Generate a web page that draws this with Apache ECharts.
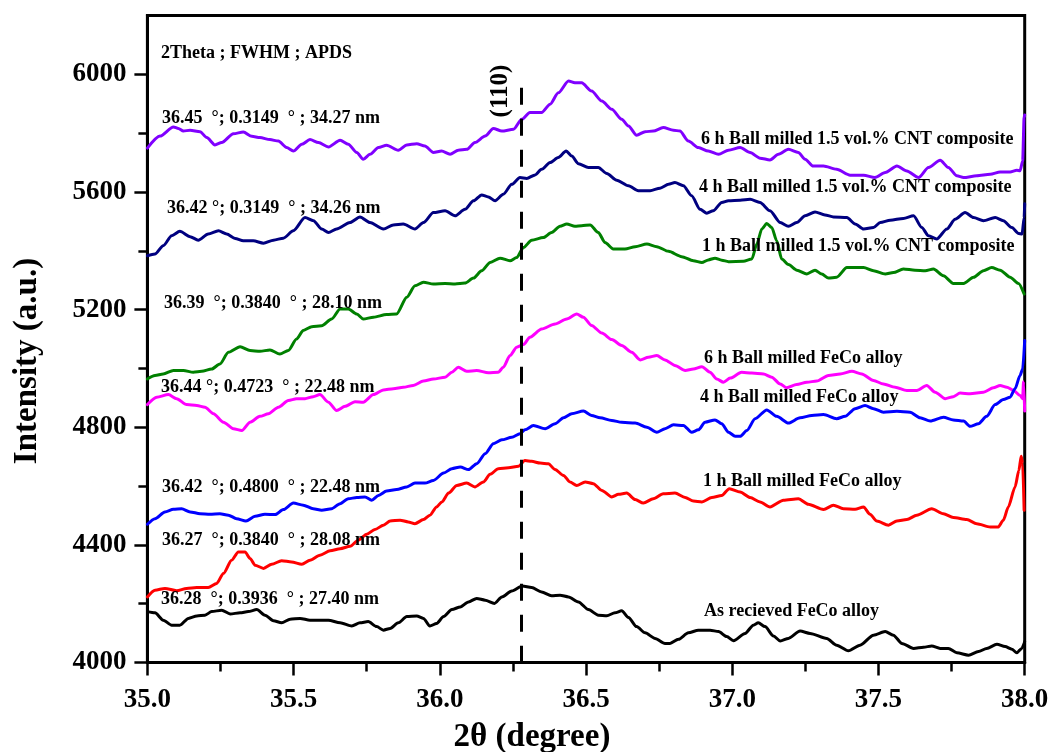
<!DOCTYPE html>
<html>
<head>
<meta charset="utf-8">
<script src="https://cdn.jsdelivr.net/npm/echarts@6/dist/echarts.min.js"></script>
<style>
  html, body { margin: 0; padding: 0; background: #fff; }
  #chart { width: 1052px; height: 752px; }
</style>
</head>
<body>
<div id="chart"></div>
<script>
// XRD scans around the FeCo (110) reflection, offset vertically per sample.
// Each scan is a list of [2θ, intensity] points.
const asReceived = [[35.000,4173],[35.026,4169],[35.054,4144],[35.083,4127],[35.111,4127],[35.140,4150],[35.169,4158],[35.197,4161],[35.220,4173],[35.254,4178],[35.283,4165],[35.317,4169],[35.345,4173],[35.374,4180],[35.402,4161],[35.431,4142],[35.459,4135],[35.488,4147],[35.522,4150],[35.556,4144],[35.590,4144],[35.619,4144],[35.659,4135],[35.699,4124],[35.727,4135],[35.755,4139],[35.784,4122],[35.807,4110],[35.830,4116],[35.858,4135],[35.887,4156],[35.921,4158],[35.944,4150],[35.966,4124],[35.989,4133],[36.013,4156],[36.041,4180],[36.070,4189],[36.098,4206],[36.126,4218],[36.155,4212],[36.187,4201],[36.212,4223],[36.246,4243],[36.282,4260],[36.314,4255],[36.348,4240],[36.382,4227],[36.411,4229],[36.440,4223],[36.474,4206],[36.508,4180],[36.542,4161],[36.571,4159],[36.599,4169],[36.622,4176],[36.645,4153],[36.673,4122],[36.702,4101],[36.736,4082],[36.770,4065],[36.787,4065],[36.816,4079],[36.850,4101],[36.884,4110],[36.924,4110],[36.953,4105],[36.981,4088],[37.004,4074],[37.044,4099],[37.072,4127],[37.089,4135],[37.112,4122],[37.141,4090],[37.164,4073],[37.192,4082],[37.232,4107],[37.266,4099],[37.323,4082],[37.357,4059],[37.397,4040],[37.437,4059],[37.483,4093],[37.523,4105],[37.551,4093],[37.580,4065],[37.620,4048],[37.654,4052],[37.682,4056],[37.711,4048],[37.739,4048],[37.768,4033],[37.808,4025],[37.842,4037],[37.870,4048],[37.905,4062],[37.933,4054],[37.956,4045],[37.973,4033],[37.990,4048],[38.000,4071]];

const feco1h = [[35.000,4223],[35.026,4246],[35.060,4252],[35.100,4244],[35.134,4252],[35.169,4255],[35.208,4255],[35.237,4269],[35.260,4303],[35.288,4348],[35.311,4376],[35.334,4376],[35.351,4354],[35.368,4331],[35.397,4320],[35.425,4334],[35.459,4346],[35.493,4342],[35.528,4334],[35.556,4348],[35.590,4365],[35.625,4380],[35.659,4387],[35.693,4395],[35.721,4416],[35.750,4436],[35.778,4452],[35.807,4467],[35.830,4481],[35.864,4484],[35.892,4478],[35.915,4472],[35.944,4486],[35.966,4501],[35.989,4529],[36.007,4546],[36.030,4576],[36.058,4602],[36.092,4610],[36.120,4597],[36.149,4614],[36.172,4640],[36.200,4659],[36.235,4662],[36.269,4667],[36.291,4687],[36.314,4684],[36.343,4678],[36.371,4676],[36.394,4656],[36.423,4636],[36.445,4614],[36.468,4602],[36.497,4614],[36.525,4608],[36.554,4585],[36.588,4563],[36.611,4572],[36.639,4576],[36.668,4554],[36.696,4542],[36.730,4557],[36.764,4574],[36.804,4576],[36.839,4561],[36.867,4549],[36.896,4546],[36.930,4561],[36.964,4568],[36.990,4591],[37.027,4580],[37.061,4561],[37.095,4546],[37.129,4529],[37.175,4552],[37.226,4557],[37.260,4538],[37.312,4520],[37.346,4535],[37.380,4523],[37.420,4521],[37.449,4529],[37.471,4504],[37.494,4481],[37.534,4467],[37.563,4481],[37.597,4486],[37.631,4501],[37.682,4523],[37.722,4506],[37.756,4493],[37.802,4486],[37.836,4472],[37.882,4461],[37.910,4461],[37.927,4484],[37.944,4529],[37.967,4597],[37.980,4653],[37.988,4701],[37.993,4676],[37.998,4518]];

const feco4h = [[35.000,4470],[35.026,4489],[35.060,4512],[35.089,4521],[35.117,4523],[35.146,4512],[35.180,4506],[35.214,4504],[35.248,4506],[35.277,4501],[35.305,4489],[35.337,4481],[35.368,4497],[35.402,4504],[35.437,4503],[35.465,4520],[35.499,4542],[35.533,4535],[35.567,4523],[35.596,4518],[35.630,4523],[35.659,4540],[35.687,4557],[35.716,4561],[35.744,4563],[35.767,4552],[35.790,4568],[35.818,4583],[35.852,4588],[35.887,4597],[35.915,4610],[35.949,4610],[35.978,4619],[36.013,4644],[36.041,4659],[36.070,4665],[36.098,4656],[36.126,4676],[36.155,4710],[36.183,4744],[36.212,4757],[36.246,4766],[36.274,4778],[36.291,4791],[36.320,4806],[36.360,4795],[36.394,4812],[36.423,4832],[36.451,4846],[36.491,4855],[36.519,4840],[36.548,4832],[36.588,4823],[36.622,4817],[36.668,4814],[36.708,4800],[36.742,4783],[36.770,4795],[36.799,4808],[36.833,4806],[36.861,4783],[36.884,4791],[36.907,4817],[36.941,4825],[36.964,4812],[36.987,4783],[37.010,4769],[37.027,4769],[37.050,4789],[37.078,4829],[37.118,4859],[37.152,4837],[37.192,4814],[37.232,4832],[37.272,4840],[37.312,4843],[37.357,4829],[37.386,4837],[37.420,4863],[37.454,4874],[37.483,4863],[37.517,4851],[37.563,4854],[37.608,4851],[37.642,4832],[37.677,4821],[37.722,4834],[37.756,4825],[37.791,4821],[37.813,4803],[37.842,4812],[37.870,4837],[37.899,4877],[37.927,4894],[37.950,4902],[37.967,4931],[37.984,4976],[37.993,4998],[38.000,5095]];

const feco6h = [[35.000,4877],[35.032,4902],[35.072,4911],[35.100,4897],[35.134,4877],[35.169,4874],[35.197,4868],[35.226,4846],[35.260,4817],[35.294,4795],[35.323,4789],[35.351,4817],[35.385,4837],[35.414,4846],[35.448,4868],[35.482,4891],[35.510,4897],[35.539,4897],[35.567,4904],[35.590,4911],[35.619,4885],[35.647,4857],[35.676,4871],[35.710,4887],[35.738,4885],[35.773,4911],[35.807,4927],[35.841,4931],[35.875,4936],[35.909,4942],[35.944,4957],[35.978,4964],[36.018,4970],[36.041,4987],[36.063,5004],[36.092,4990],[36.126,4993],[36.166,4985],[36.200,4987],[36.217,5004],[36.240,5044],[36.263,5072],[36.286,5081],[36.308,5106],[36.348,5134],[36.394,5151],[36.434,5168],[36.468,5185],[36.491,5174],[36.519,5146],[36.554,5120],[36.588,5098],[36.622,5078],[36.656,5055],[36.685,5029],[36.713,5038],[36.742,5044],[36.770,5029],[36.804,5010],[36.839,4993],[36.867,4998],[36.896,5006],[36.924,4987],[36.947,4964],[36.970,4953],[36.993,4967],[37.032,4987],[37.067,4984],[37.107,4981],[37.135,4970],[37.164,4947],[37.186,4934],[37.220,4945],[37.255,4953],[37.289,4957],[37.329,4976],[37.369,4981],[37.409,4990],[37.443,4981],[37.483,4959],[37.517,4947],[37.557,4936],[37.597,4925],[37.631,4925],[37.665,4942],[37.694,4919],[37.728,4897],[37.756,4904],[37.779,4916],[37.813,4914],[37.859,4919],[37.893,4934],[37.916,4942],[37.939,4936],[37.962,4925],[37.984,4908],[37.993,4897],[37.996,4955],[38.000,4855]];

const cnt1h = [[35.000,4964],[35.026,4976],[35.054,4981],[35.089,4993],[35.123,4993],[35.157,4987],[35.186,4990],[35.220,4998],[35.248,5015],[35.277,5055],[35.317,5074],[35.351,5061],[35.385,5058],[35.419,5063],[35.453,5049],[35.482,5061],[35.510,5100],[35.533,5129],[35.562,5142],[35.596,5145],[35.630,5168],[35.659,5202],[35.687,5202],[35.716,5185],[35.738,5168],[35.773,5174],[35.818,5183],[35.852,5185],[35.887,5242],[35.915,5281],[35.944,5293],[35.978,5287],[36.018,5289],[36.052,5287],[36.086,5290],[36.115,5307],[36.143,5332],[36.172,5360],[36.206,5375],[36.240,5366],[36.263,5377],[36.286,5411],[36.314,5436],[36.354,5445],[36.382,5462],[36.411,5483],[36.434,5491],[36.462,5483],[36.485,5485],[36.514,5488],[36.542,5462],[36.565,5428],[36.593,5406],[36.633,5406],[36.668,5414],[36.708,5423],[36.742,5414],[36.782,5398],[36.827,5380],[36.867,5366],[36.896,5360],[36.918,5369],[36.941,5375],[36.964,5368],[36.987,5363],[37.038,5364],[37.067,5372],[37.084,5423],[37.101,5474],[37.118,5493],[37.135,5479],[37.152,5434],[37.169,5372],[37.192,5353],[37.221,5334],[37.255,5321],[37.283,5334],[37.306,5321],[37.329,5307],[37.357,5310],[37.392,5343],[37.414,5343],[37.449,5343],[37.483,5332],[37.523,5321],[37.551,5326],[37.585,5338],[37.625,5334],[37.660,5332],[37.688,5338],[37.722,5315],[37.756,5289],[37.791,5289],[37.825,5310],[37.859,5332],[37.887,5343],[37.916,5334],[37.950,5310],[37.979,5289],[37.998,5253]];

const cnt4h = [[35.000,5383],[35.026,5389],[35.054,5417],[35.083,5451],[35.111,5466],[35.146,5448],[35.174,5436],[35.208,5457],[35.243,5468],[35.271,5457],[35.300,5442],[35.328,5434],[35.362,5434],[35.397,5426],[35.431,5436],[35.465,5443],[35.499,5468],[35.539,5513],[35.568,5502],[35.596,5474],[35.619,5462],[35.647,5474],[35.693,5496],[35.727,5515],[35.761,5496],[35.807,5474],[35.841,5488],[35.875,5491],[35.915,5474],[35.944,5496],[35.978,5530],[36.018,5536],[36.052,5519],[36.086,5541],[36.115,5570],[36.143,5590],[36.166,5583],[36.189,5570],[36.217,5592],[36.246,5626],[36.274,5649],[36.297,5646],[36.326,5658],[36.348,5677],[36.377,5700],[36.405,5717],[36.432,5739],[36.451,5722],[36.474,5696],[36.508,5683],[36.542,5683],[36.571,5663],[36.605,5640],[36.645,5621],[36.679,5604],[36.719,5604],[36.753,5613],[36.782,5626],[36.804,5632],[36.833,5621],[36.861,5587],[36.890,5541],[36.913,5528],[36.935,5536],[36.964,5564],[36.987,5570],[37.027,5572],[37.061,5575],[37.095,5564],[37.129,5536],[37.164,5496],[37.192,5483],[37.220,5496],[37.249,5519],[37.283,5532],[37.317,5522],[37.346,5515],[37.392,5513],[37.420,5491],[37.449,5474],[37.483,5479],[37.506,5496],[37.540,5504],[37.585,5510],[37.620,5519],[37.648,5479],[37.671,5451],[37.699,5440],[37.734,5474],[37.762,5507],[37.796,5530],[37.825,5513],[37.859,5502],[37.899,5513],[37.927,5502],[37.956,5479],[37.979,5459],[37.991,5457],[37.998,5513],[38.000,5560]];

const cnt6h = [[35.000,5749],[35.043,5790],[35.089,5821],[35.106,5816],[35.123,5807],[35.146,5810],[35.180,5805],[35.203,5785],[35.231,5760],[35.254,5768],[35.294,5798],[35.328,5804],[35.357,5789],[35.385,5785],[35.419,5778],[35.448,5773],[35.476,5751],[35.499,5739],[35.528,5762],[35.556,5778],[35.585,5768],[35.619,5753],[35.659,5776],[35.687,5762],[35.716,5734],[35.738,5711],[35.761,5728],[35.790,5751],[35.818,5759],[35.858,5742],[35.887,5760],[35.921,5764],[35.949,5756],[35.978,5734],[36.006,5739],[36.035,5728],[36.063,5742],[36.092,5745],[36.120,5768],[36.155,5790],[36.183,5816],[36.212,5807],[36.252,5813],[36.280,5847],[36.308,5870],[36.348,5870],[36.377,5898],[36.405,5937],[36.440,5977],[36.462,5971],[36.485,5971],[36.519,5943],[36.554,5909],[36.588,5881],[36.622,5847],[36.645,5824],[36.673,5793],[36.702,5805],[36.730,5807],[36.764,5819],[36.799,5810],[36.821,5807],[36.850,5773],[36.884,5751],[36.918,5739],[36.953,5728],[36.987,5742],[37.027,5751],[37.061,5734],[37.095,5715],[37.129,5709],[37.158,5728],[37.192,5745],[37.226,5734],[37.249,5711],[37.277,5688],[37.312,5688],[37.357,5677],[37.403,5657],[37.449,5657],[37.488,5649],[37.523,5666],[37.563,5688],[37.597,5671],[37.637,5649],[37.671,5683],[37.711,5708],[37.739,5683],[37.768,5655],[37.791,5649],[37.836,5655],[37.882,5660],[37.916,5668],[37.950,5668],[37.973,5674],[37.984,5672],[37.993,5705],[37.998,5853],[38.000,5862]];

// Sample names drawn beside each scan
const sampleNames = [
  '6 h Ball milled 1.5 vol.% CNT composite',
  '4 h Ball milled 1.5 vol.% CNT composite',
  '1 h Ball milled 1.5 vol.% CNT composite',
  '6 h Ball milled FeCo alloy',
  '4 h Ball milled FeCo alloy',
  '1 h Ball milled FeCo alloy',
  'As recieved FeCo alloy'
];

// Peak position ; FWHM ; crystallite size for each scan (same order)
const peakNotes = [
  '36.45  °; 0.3149  ° ; 34.27 nm',
  '36.42 °; 0.3149  ° ; 34.26 nm',
  '36.39  °; 0.3840  ° ; 28.10 nm',
  '36.44 °; 0.4723  ° ; 22.48 nm',
  '36.42  °; 0.4800  ° ; 22.48 nm',
  '36.27  °; 0.3840  ° ; 28.08 nm',
  '36.28  °; 0.3936  ° ; 27.40 nm'
];
const notesHeader = '2Theta ; FWHM ; APDS';

// (110) reference position and the top of its guide line
const peak110 = 36.28;
const peak110Top = 5954;
const peakLabel = '(110)';

const yMajorTicks = [4000, 4400, 4800, 5200, 5600, 6000];
const yMinorTicks = [4200, 4600, 5000, 5400, 5800];

const xTitle = '2θ (degree)';
const yTitle = 'Intensity (a.u.)';

const FONT = '"Liberation Serif", "Times New Roman", serif';

const scans = [cnt6h, cnt4h, cnt1h, feco6h, feco4h, feco1h, asReceived];
const colors = ['#8000ff', '#000080', '#008000', '#ff00ff', '#0000ff', '#ff0000', '#000000'];

const chart = echarts.init(document.getElementById('chart'), null, { renderer: 'canvas' });

const seriesList = scans.map((d, i) => ({
  name: sampleNames[i],
  type: 'line',
  data: d,
  showSymbol: false,
  symbol: 'none',
  smooth: 0.25,
  smoothMonotone: 'x',
  lineStyle: { color: colors[i], width: 3, join: 'round', cap: 'round' },
  z: 3
}));

// dashed guide at the (110) reflection
seriesList.push({
  type: 'line',
  data: [],
  markLine: {
    silent: true,
    symbol: ['none', 'none'],
    label: { show: false },
    lineStyle: { color: '#000', width: 3, type: [17, 14] },
    data: [[{ coord: [peak110, peak110Top] }, { coord: [peak110, 4000] }]]
  },
  z: 2
});

const textStyle = (size) => ({
  font: 'bold ' + size + 'px ' + FONT,
  fill: '#000'
});

const noteRows = [118, 208, 303, 387, 487, 540, 599];
const noteLeft = [162, 167, 164, 161, 162, 162, 161];
const nameRows = [139, 187, 246, 358, 397, 481, 611];
const nameLeft = [701, 699, 702, 704, 700, 703, 704];

const graphics = [];
peakNotes.forEach((t, i) => {
  graphics.push({ type: 'text', x: noteLeft[i], y: noteRows[i], z: 10,
    style: Object.assign({ text: t, textAlign: 'left', textVerticalAlign: 'middle' }, textStyle(18)) });
});
sampleNames.forEach((t, i) => {
  graphics.push({ type: 'text', x: nameLeft[i], y: nameRows[i], z: 10,
    style: Object.assign({ text: t, textAlign: 'left', textVerticalAlign: 'middle' }, textStyle(18)) });
});
graphics.push({ type: 'text', x: 161, y: 53, z: 10,
  style: Object.assign({ text: notesHeader, textAlign: 'left', textVerticalAlign: 'middle' }, textStyle(18)) });
graphics.push({ type: 'text', x: 501, y: 91, rotation: Math.PI / 2, z: 10,
  style: Object.assign({ text: peakLabel, textAlign: 'center', textVerticalAlign: 'middle' }, textStyle(25)) });
graphics.push({ type: 'text', x: 532, y: 737, z: 10,
  style: Object.assign({ text: xTitle, textAlign: 'center', textVerticalAlign: 'middle' }, textStyle(33)) });
graphics.push({ type: 'text', x: 27, y: 361, rotation: Math.PI / 2, z: 10,
  style: Object.assign({ text: yTitle, textAlign: 'center', textVerticalAlign: 'middle' }, textStyle(33)) });

const tickLabel = { fontSize: 27, fontWeight: 'bold', fontFamily: FONT, color: '#000' };

chart.setOption({
  animation: false,
  backgroundColor: '#fff',
  grid: {
    left: 147.4, right: 27.3, top: 15.5, bottom: 89.5,
    show: true, borderColor: '#000', borderWidth: 3, backgroundColor: 'transparent'
  },
  xAxis: {
    type: 'value', min: 35, max: 38, interval: 0.5,
    axisLine: { show: true, onZero: false, lineStyle: { color: '#000', width: 3 } },
    axisTick: { show: true, inside: false, length: 13, lineStyle: { color: '#000', width: 2.5 } },
    minorTick: { show: true, splitNumber: 2, length: 9, lineStyle: { color: '#000', width: 2.5 } },
    axisLabel: Object.assign({ margin: 24, formatter: (v) => v.toFixed(1) }, tickLabel),
    splitLine: { show: false },
    minorSplitLine: { show: false }
  },
  yAxis: [{
    type: 'value', min: 4000, max: 6200, interval: 400,
    axisLine: { show: true, onZero: false, lineStyle: { color: '#000', width: 3 } },
    axisTick: { show: true, inside: false, length: 13, customValues: yMajorTicks, lineStyle: { color: '#000', width: 2.5 } },
    axisLabel: Object.assign({ margin: 21, customValues: yMajorTicks, formatter: (v) => String(v) }, tickLabel),
    splitLine: { show: false }
  }, {
    type: 'value', min: 4000, max: 6200, position: 'left', offset: 0,
    axisLine: { show: false },
    axisTick: { show: true, inside: false, length: 9, customValues: yMinorTicks, lineStyle: { color: '#000', width: 2.5 } },
    axisLabel: { show: false },
    splitLine: { show: false }
  }],
  series: seriesList,
  graphic: graphics
});
</script>
</body>
</html>
